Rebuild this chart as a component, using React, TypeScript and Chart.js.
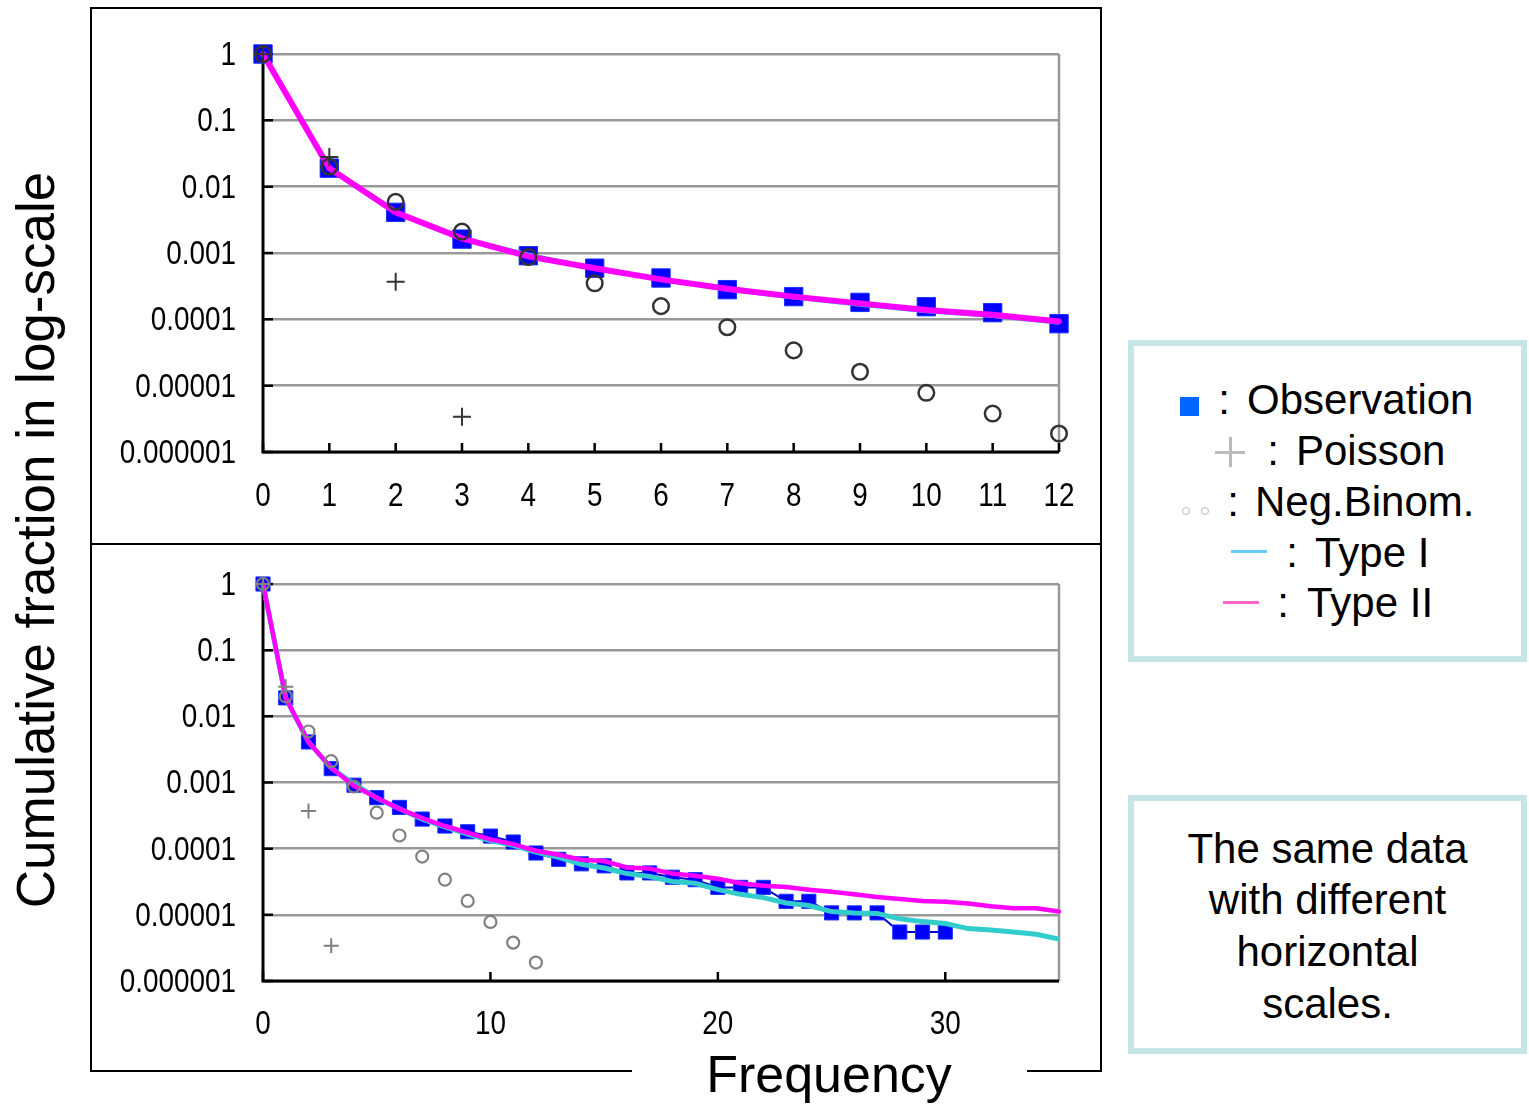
import React, { useEffect, useRef } from "react";
import { Chart, registerables } from "chart.js";

Chart.register(...registerables);

// ---------------- data ----------------
const frequencies = [0, 1, 2, 3, 4, 5, 6, 7, 8, 9, 10, 11, 12, 13, 14, 15, 16, 17, 18, 19, 20, 21, 22, 23, 24, 25, 26, 27, 28, 29, 30, 31, 32, 33, 34, 35];

const observation = [1, 0.019, 0.0041, 0.00162, 0.00091, 0.00059, 0.00042, 0.00028, 0.00022, 0.00018, 0.000155, 0.000126, 0.000086, 0.000069, 0.000059, 0.000055, 0.000043, 0.000043, 0.000037, 0.000034, 0.000026, 0.000026, 0.000026, 0.000016, 0.000016, 0.0000107, 0.0000107, 0.0000107, 0.0000055, 0.0000055, 0.0000055];

const typeI = [1, 0.019, 0.0041, 0.00166, 0.00095, 0.00058, 0.0004, 0.00028, 0.000214, 0.000166, 0.000132, 0.000112, 0.000089, 0.000074, 0.000058, 0.000051, 0.000042, 0.000038, 0.000032, 0.00003, 0.000024, 0.0000204, 0.0000182, 0.0000151, 0.0000138, 0.0000112, 0.0000107, 0.0000105, 0.0000087, 0.0000079, 0.0000074, 0.0000062, 0.0000059, 0.0000055, 0.0000051, 0.0000043];

const typeII = [1, 0.019, 0.0041, 0.00166, 0.00089, 0.00059, 0.0004, 0.00029, 0.00022, 0.000174, 0.000138, 0.000117, 0.000093, 0.000081, 0.000068, 0.000065, 0.000052, 0.00005, 0.000042, 0.000039, 0.000035, 0.00003, 0.0000275, 0.0000263, 0.000024, 0.0000224, 0.0000204, 0.0000186, 0.0000174, 0.0000162, 0.0000158, 0.0000148, 0.0000135, 0.0000126, 0.0000126, 0.0000112];

const poisson = [1, 0.028, 0.00037, 0.0000034];

const negBinom = [1, 0.02, 0.0059, 0.0021, 0.00087, 0.00035, 0.000158, 0.000076, 0.000034, 0.0000162, 0.0000078, 0.0000038, 0.0000019];

const yTickValues = [1, 0.1, 0.01, 0.001, 0.0001, 0.00001, 0.000001];
const yTickLabels = ["1", "0.1", "0.01", "0.001", "0.0001", "0.00001", "0.000001"];

const topXTicks = [0, 1, 2, 3, 4, 5, 6, 7, 8, 9, 10, 11, 12];
const topXLabels = ["0", "1", "2", "3", "4", "5", "6", "7", "8", "9", "10", "11", "12"];
const bottomXTicks = [0, 10, 20, 30];
const bottomXLabels = ["0", "10", "20", "30"];

const yTitle = "Cumulative fraction in log-scale";
const xTitle = "Frequency";
const legendLabels = ["Observation", "Poisson", "Neg.Binom.", "Type I", "Type II"];
const noteLines = ["The same data", "with different", "horizontal", "scales."];

// ---------------- helpers ----------------
const TEXT_FONT = "'Liberation Sans', Arial, Helvetica, sans-serif";
const LABEL_FONT = "34px 'Liberation Sans', Arial, sans-serif";
const LABEL_SQUEEZE = 0.82;

function pts(values: number[], maxX: number) {
  const out: { x: number; y: number }[] = [];
  values.forEach((v, i) => {
    if (frequencies[i] <= maxX) out.push({ x: frequencies[i], y: v });
  });
  return out;
}

function squeezedText(ctx: CanvasRenderingContext2D, text: string, x: number, y: number, align: CanvasTextAlign) {
  ctx.save();
  ctx.translate(x, y);
  ctx.scale(LABEL_SQUEEZE, 1);
  ctx.textAlign = align;
  ctx.textBaseline = "middle";
  ctx.fillText(text, 0, 0);
  ctx.restore();
}

const axesPlugin = {
  id: "frameAxes",
  beforeDatasetsDraw(chart: any, _args: any, opts: any) {
    const { ctx, chartArea, scales } = chart;
    const { left, right, top, bottom } = chartArea;
    ctx.save();
    ctx.lineCap = "butt";
    // right border (gray)
    ctx.strokeStyle = "#999999";
    ctx.lineWidth = 2.5;
    ctx.beginPath();
    ctx.moveTo(right, top);
    ctx.lineTo(right, bottom);
    ctx.stroke();
    // axes (black)
    ctx.strokeStyle = "#000000";
    ctx.lineWidth = 3;
    ctx.beginPath();
    ctx.moveTo(left, top);
    ctx.lineTo(left, bottom + 1.5);
    ctx.moveTo(left - 1.5, bottom);
    ctx.lineTo(right, bottom);
    ctx.stroke();
    ctx.lineWidth = 2.5;
    ctx.beginPath();
    for (const v of yTickValues) {
      const y = scales.y.getPixelForValue(v);
      ctx.moveTo(left, y);
      ctx.lineTo(left + 10, y);
    }
    const xTicks = opts.xTicks as number[];
    for (const v of xTicks) {
      const x = scales.x.getPixelForValue(v);
      ctx.moveTo(x, bottom);
      ctx.lineTo(x, bottom - 9);
    }
    ctx.stroke();
    // tick labels (condensed)
    ctx.fillStyle = "#000000";
    ctx.font = LABEL_FONT;
    yTickValues.forEach((v, i) => {
      squeezedText(ctx, yTickLabels[i], left - 27, scales.y.getPixelForValue(v) + 1.5, "right");
    });
    const xLabels = opts.xLabels as string[];
    xTicks.forEach((v, i) => {
      squeezedText(ctx, xLabels[i], scales.x.getPixelForValue(v), bottom + opts.xLabelOffset, "center");
    });
    ctx.restore();
  },
};

type PanelProps = {
  maxX: number;
  xTicks: number[];
  xLabels: string[];
  height: number;
  padTop: number;
  axisHeight: number;
  xLabelOffset: number;
  big: boolean;
};

function Panel(p: PanelProps) {
  const ref = useRef<HTMLCanvasElement | null>(null);
  useEffect(() => {
    if (!ref.current) return;
    const markColor = p.big ? "#333333" : "#808080";
    const chart = new Chart(ref.current, {
      type: "line",
      data: {
        datasets: [
          {
            label: legendLabels[2],
            data: pts(negBinom, p.maxX),
            showLine: false,
            pointStyle: "circle",
            pointRadius: p.big ? 7.8 : 6,
            pointBorderWidth: p.big ? 2.5 : 2.2,
            pointBorderColor: markColor,
            pointBackgroundColor: "rgba(0,0,0,0)",
            clip: false,
            order: 0,
          },
          {
            label: legendLabels[1],
            data: pts(poisson, p.maxX),
            showLine: false,
            pointStyle: "cross",
            pointRadius: p.big ? 9 : 7.5,
            pointBorderWidth: 2,
            pointBorderColor: markColor,
            clip: false,
            order: 1,
          },
          {
            label: legendLabels[4],
            data: pts(typeII, p.maxX),
            borderColor: "#ff00ff",
            borderWidth: p.big ? 6 : 4.5,
            pointRadius: p.big ? 2.8 : 2.2,
            pointBackgroundColor: "#ff00ff",
            pointBorderWidth: 0,
            tension: 0,
            clip: false,
            order: 2,
          },
          {
            label: legendLabels[3],
            data: pts(typeI, p.maxX),
            borderColor: "#33cccc",
            borderWidth: p.big ? 4 : 5,
            pointRadius: 0,
            tension: 0,
            clip: false,
            order: 3,
          },
          {
            label: legendLabels[0],
            data: pts(observation, p.maxX),
            showLine: !p.big,
            borderColor: "#0000cc",
            borderWidth: 2,
            pointStyle: "rect",
            pointRadius: p.big ? 13 : 10,
            pointBackgroundColor: "#0000ff",
            pointBorderColor: "#1a33ff",
            pointBorderWidth: 1,
            tension: 0,
            clip: false,
            order: 4,
          },
        ],
      },
      options: {
        animation: false,
        responsive: false,
        maintainAspectRatio: false,
        devicePixelRatio: 1,
        layout: { padding: { top: p.padTop, right: 42, left: 0, bottom: 0 } },
        plugins: {
          legend: { display: false },
          tooltip: { enabled: false },
          frameAxes: { xTicks: p.xTicks, xLabels: p.xLabels, xLabelOffset: p.xLabelOffset },
        } as any,
        scales: {
          x: {
            type: "linear",
            min: 0,
            max: p.maxX,
            grid: { display: false, drawTicks: false },
            border: { display: false },
            afterBuildTicks: (s: any) => {
              s.ticks = p.xTicks.map((v) => ({ value: v }));
            },
            afterFit: (s: any) => {
              s.height = p.axisHeight;
            },
            ticks: { display: false },
          },
          y: {
            type: "logarithmic",
            min: 0.000001,
            max: 1,
            grid: { display: true, color: "#999999", lineWidth: 2.5, drawTicks: false },
            border: { display: false },
            afterBuildTicks: (s: any) => {
              s.ticks = yTickValues.map((v) => ({ value: v }));
            },
            afterFit: (s: any) => {
              s.width = 172;
            },
            ticks: { display: false },
          },
        },
      },
      plugins: [axesPlugin],
    } as any);
    return () => chart.destroy();
  }, []);
  return <canvas ref={ref} width={1010} height={p.height} style={{ display: "block", width: 1010, height: p.height }} />;
}

const abs = (left: number, top: number, extra: React.CSSProperties = {}): React.CSSProperties => ({
  position: "absolute",
  left,
  top,
  ...extra,
});

const legendText: React.CSSProperties = {
  fontFamily: TEXT_FONT,
  fontSize: 42,
  lineHeight: "42px",
  color: "#000",
  whiteSpace: "nowrap",
};

function Colon({ x, baseline }: { x: number; baseline: number }) {
  return <div style={abs(x - 10, baseline - 35.6, { ...legendText, width: 20, textAlign: "center" })}>:</div>;
}

export default function App() {
  return (
    <div style={{ position: "absolute", left: 0, top: 0, width: 1529, height: 1104, background: "#fff", overflow: "hidden" }}>
      {/* charts */}
      <div style={abs(91, 8)}>
        <Panel maxX={12} xTicks={topXTicks} xLabels={topXLabels} height={536} padTop={46} axisHeight={92} xLabelOffset={45} big={true} />
      </div>
      <div style={abs(91, 544)}>
        <Panel maxX={35} xTicks={bottomXTicks} xLabels={bottomXLabels} height={527} padTop={40} axisHeight={90} xLabelOffset={44} big={false} />
      </div>

      {/* frames */}
      <div style={abs(90, 7, { width: 1012, height: 2, background: "#000" })} />
      <div style={abs(90, 7, { width: 2, height: 1065, background: "#000" })} />
      <div style={abs(1100, 7, { width: 2, height: 1065, background: "#000" })} />
      <div style={abs(90, 543, { width: 1012, height: 2, background: "#000" })} />
      <div style={abs(90, 1070, { width: 542, height: 2, background: "#000" })} />
      <div style={abs(1027, 1070, { width: 75, height: 2, background: "#000" })} />

      {/* axis titles */}
      <div
        style={abs(35, 540, {
          fontFamily: TEXT_FONT,
          fontSize: 53,
          lineHeight: "53px",
          whiteSpace: "nowrap",
          color: "#000",
          transform: "translate(-50%, -50%) rotate(-90deg)",
        })}
      >
        {yTitle}
      </div>
      <div
        style={abs(829, 1048, {
          fontFamily: TEXT_FONT,
          fontSize: 52,
          lineHeight: "52px",
          whiteSpace: "nowrap",
          color: "#000",
          transform: "translateX(-50%)",
        })}
      >
        {xTitle}
      </div>

      {/* legend box */}
      <div style={abs(1128, 340, { width: 399, height: 322, boxSizing: "border-box", border: "6px solid #c5e5e6", background: "#fff" })} />
      <div style={abs(1180, 397, { width: 19, height: 19, background: "#0066ff" })} />
      <Colon x={1224} baseline={415} />
      <div style={abs(1247, 415 - 35.6, legendText)}>{legendLabels[0]}</div>

      <div style={abs(1215, 451, { width: 30, height: 3, background: "#bbbbbb" })} />
      <div style={abs(1229, 437, { width: 3, height: 30, background: "#bbbbbb" })} />
      <Colon x={1273} baseline={466} />
      <div style={abs(1296, 466 - 35.6, legendText)}>{legendLabels[1]}</div>

      <div style={abs(1182, 507, { width: 8, height: 8, borderRadius: "50%", border: "1.5px solid #bbbbbb", boxSizing: "border-box" })} />
      <div style={abs(1201, 507, { width: 8, height: 8, borderRadius: "50%", border: "1.5px solid #bbbbbb", boxSizing: "border-box" })} />
      <Colon x={1233} baseline={517} />
      <div style={abs(1255, 517 - 35.6, legendText)}>{legendLabels[2]}</div>

      <div style={abs(1231, 550, { width: 36, height: 3, background: "#66ccff" })} />
      <Colon x={1292} baseline={568} />
      <div style={abs(1315, 568 - 35.6, legendText)}>{legendLabels[3]}</div>

      <div style={abs(1223, 601, { width: 36, height: 3, background: "#ff66cc" })} />
      <Colon x={1283} baseline={618} />
      <div style={abs(1307, 618 - 35.6, legendText)}>{legendLabels[4]}</div>

      {/* note box */}
      <div style={abs(1128, 795, { width: 399, height: 259, boxSizing: "border-box", border: "6px solid #c5e5e6", background: "#fff" })} />
      <div
        style={abs(1128, 822.6, {
          width: 399,
          textAlign: "center",
          fontFamily: TEXT_FONT,
          fontSize: 42,
          lineHeight: "51.7px",
          color: "#000",
        })}
      >
        {noteLines.map((l) => (
          <div key={l}>{l}</div>
        ))}
      </div>
    </div>
  );
}
